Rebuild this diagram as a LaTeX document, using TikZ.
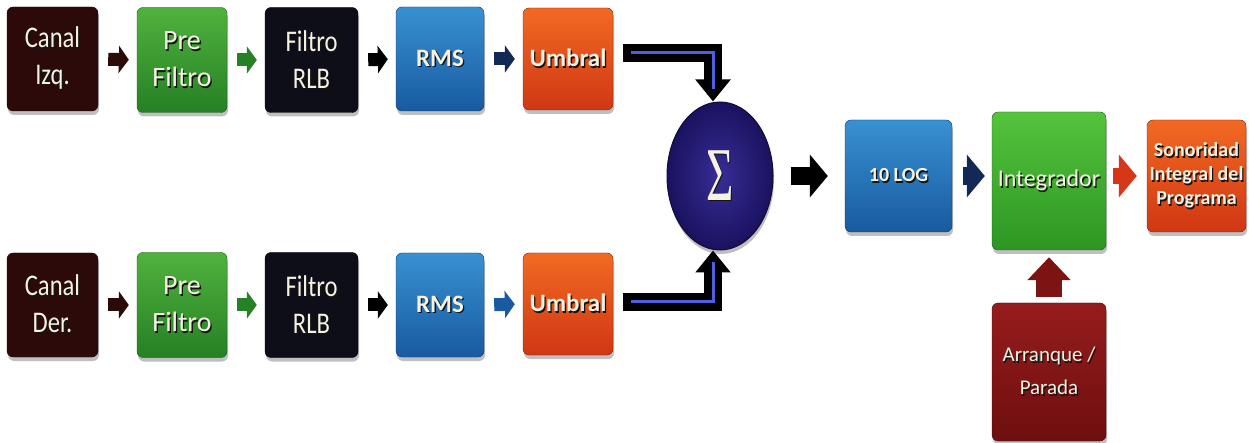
\documentclass[tikz,border=0pt]{standalone}
\usepackage{fontspec}
\usepackage{graphicx}
\setmainfont{Carlito}
\newfontfamily\condfont{Carlito}[FakeStretch=0.82]
\newfontfamily\sigmafont{Liberation Serif}
\usetikzlibrary{arrows.meta,shadows,shapes.geometric}

% palette
\definecolor{canalc}{RGB}{45,10,10}
\definecolor{greenhi}{RGB}{80,178,62}
\definecolor{greenlo}{RGB}{38,128,36}
\definecolor{rlbc}{RGB}{14,14,24}
\definecolor{bluehi}{RGB}{55,145,210}
\definecolor{bluelo}{RGB}{25,90,160}
\definecolor{orangehi}{RGB}{242,105,35}
\definecolor{orangelo}{RGB}{208,55,20}
\definecolor{intghi}{RGB}{85,195,60}
\definecolor{intglo}{RGB}{45,150,35}
\definecolor{redhi}{RGB}{150,28,28}
\definecolor{redlo}{RGB}{110,15,15}
\definecolor{sigmahi}{RGB}{55,45,150}
\definecolor{sigmalo}{RGB}{26,18,95}
\definecolor{navyc}{RGB}{18,40,85}
\definecolor{arrred}{RGB}{215,55,25}
\definecolor{arrdkred}{RGB}{125,20,20}
\definecolor{innerblue}{RGB}{80,95,225}
\definecolor{paper}{RGB}{245,242,228}
\definecolor{shade}{RGB}{20,20,20}

% light text with a dark drop shadow
\newcommand{\sh}[1]{\leavevmode\rlap{\hspace{1.3pt}\raisebox{-1.6pt}{\textcolor{shade}{#1}}}#1}

\tikzset{
  box/.style={rounded corners=6pt, align=center, text=paper, inner sep=0pt,
    drop shadow={shadow xshift=1pt, shadow yshift=-4pt, fill=black, opacity=0.25}},
  canalbox/.style={box, fill=canalc, draw=canalc!70!black,
    minimum width=91pt, minimum height=104pt,
    font=\condfont\fontsize{30}{37}\selectfont},
  prebox/.style={box, top color=greenhi, bottom color=greenlo, draw=greenlo!70!black,
    minimum width=90pt, minimum height=105pt,
    font=\fontsize{28}{37}\selectfont},
  rlbbox/.style={box, fill=rlbc, draw=black,
    minimum width=93pt, minimum height=105pt,
    font=\condfont\fontsize{30}{37}\selectfont},
  rmsbox/.style={box, top color=bluehi, bottom color=bluelo, draw=bluelo!60!black,
    minimum width=88pt, minimum height=104pt,
    font=\bfseries\fontsize{25}{30}\selectfont},
  umbbox/.style={box, top color=orangehi, bottom color=orangelo, draw=orangelo!60!black,
    minimum width=90pt, minimum height=102pt,
    font=\bfseries\fontsize{25}{30}\selectfont},
  logbox/.style={box, top color=bluehi, bottom color=bluelo, draw=bluelo!60!black,
    minimum width=107pt, minimum height=112pt,
    font=\bfseries\fontsize{20}{24}\selectfont},
  intbox/.style={box, top color=intghi, bottom color=intglo, draw=intglo!60!black,
    minimum width=114pt, minimum height=138pt,
    font=\fontsize{24}{28}\selectfont},
  sonbox/.style={box, top color=orangehi, bottom color=orangelo, draw=orangelo!60!black,
    minimum width=99pt, minimum height=112pt,
    font=\bfseries\fontsize{20}{24}\selectfont},
  arrbox/.style={box, top color=redhi, bottom color=redlo, draw=redlo!60!black,
    minimum width=114pt, minimum height=138pt,
    font=\fontsize{21}{33}\selectfont},
  sumnode/.style={ellipse, inner sep=0pt, minimum width=106pt, minimum height=148pt,
    inner color=sigmahi, outer color=sigmalo, draw=sigmalo!60!black, line width=1pt,
    text=paper,
    drop shadow={shadow xshift=1pt, shadow yshift=-4pt, fill=black, opacity=0.25}},
  % small block arrows between the boxes of each channel
  smallarrow/.style={draw=#1, line width=13pt,
    -{Triangle[width=27pt,length=10pt,fill=#1]},
    shorten <=10pt, shorten >=8pt},
  % wider block arrows of the output chain
  midarrow/.style={draw=#1, line width=18pt,
    -{Triangle[width=42pt,length=18pt,fill=#1]}},
  % L-shaped feeds into the summing node
  feed/.style={draw=black, line width=18pt, line join=miter,
    -{Triangle[width=34pt,length=22pt,fill=black]}},
  feedline/.style={draw=innerblue, line width=3pt, line join=miter},
}

\begin{document}
\begin{tikzpicture}[x=1pt,y=-1pt]
\useasboundingbox[fill=white] (0,0) rectangle (1249,443);

% left channel
\node[canalbox] (c1) at (52.5,59) {\sh{Canal}\\\sh{Izq.}};
\node[prebox]   (p1) at (182,60)  {\sh{Pre}\\\sh{Filtro}};
\node[rlbbox]   (f1) at (311.5,60) {\sh{Filtro}\\\sh{RLB}};
\node[rmsbox]   (r1) at (440,59)  {\sh{RMS}};
\node[umbbox]   (u1) at (568,59)  {\sh{Umbral}};

% right channel
\node[canalbox] (c2) at (52.5,305) {\sh{Canal}\\\sh{Der.}};
\node[prebox]   (p2) at (182,305)  {\sh{Pre}\\\sh{Filtro}};
\node[rlbbox]   (f2) at (311.5,305) {\sh{Filtro}\\\sh{RLB}};
\node[rmsbox]   (r2) at (440,305)  {\sh{RMS}};
\node[umbbox]   (u2) at (568,304)  {\sh{Umbral}};

% summation and output chain
\node[sumnode] (sum) at (720,176)
  {\scalebox{0.62}[1]{\sigmafont\fontsize{76}{76}\selectfont\sh{Σ}}};
\node[logbox] (log) at (898.5,176) {\sh{10 LOG}};
\node[intbox] (int) at (1049,181)  {\sh{Integrador}};
\node[sonbox] (son) at (1196.5,176) {\sh{Sonoridad}\\\sh{Integral del}\\\sh{Programa}};
\node[arrbox] (arr) at (1049,372)  {\sh{Arranque /}\\\sh{Parada}};

% channel arrows
\draw[smallarrow=canalc] (c1.east) -- (p1.west);
\draw[smallarrow=greenlo] (p1.east) -- (f1.west);
\draw[smallarrow=black]   (f1.east) -- (r1.west);
\draw[smallarrow=navyc]   (r1.east) -- (u1.west);

\draw[smallarrow=canalc] (c2.east) -- (p2.west);
\draw[smallarrow=greenlo] (p2.east) -- (f2.west);
\draw[smallarrow=black]   (f2.east) -- (r2.west);
\draw[smallarrow=bluelo]  (r2.east) -- (u2.west);

% feeds into the summing node
\draw[feed] ([xshift=10pt,yshift=6pt]u1.east) -| ([xshift=-7pt]sum.north);
\draw[feedline] ([xshift=18pt,yshift=6pt]u1.east) -| ([xshift=-7pt,yshift=12pt]sum.north);
\draw[feed] ([xshift=10pt,yshift=2pt]u2.east) -| ([xshift=-7pt]sum.south);
\draw[feedline] ([xshift=18pt,yshift=2pt]u2.east) -| ([xshift=-7pt,yshift=-12pt]sum.south);

% output chain arrows
\draw[midarrow=black, shorten <=17pt, shorten >=17pt] (sum.east) -- (log.west);
\draw[midarrow=navyc, shorten <=11pt, shorten >=7pt] (log.east) -- (log.east -| int.west);
\draw[midarrow=arrred, line width=16pt, shorten <=7pt, shorten >=10pt]
  (int.east |- son.west) -- (son.west);
\draw[draw=arrdkred, line width=26pt, -{Triangle[width=42pt,length=23pt,fill=arrdkred]},
  shorten <=6pt, shorten >=7pt] (arr.north) -- (int.south);
\end{tikzpicture}
\end{document}
